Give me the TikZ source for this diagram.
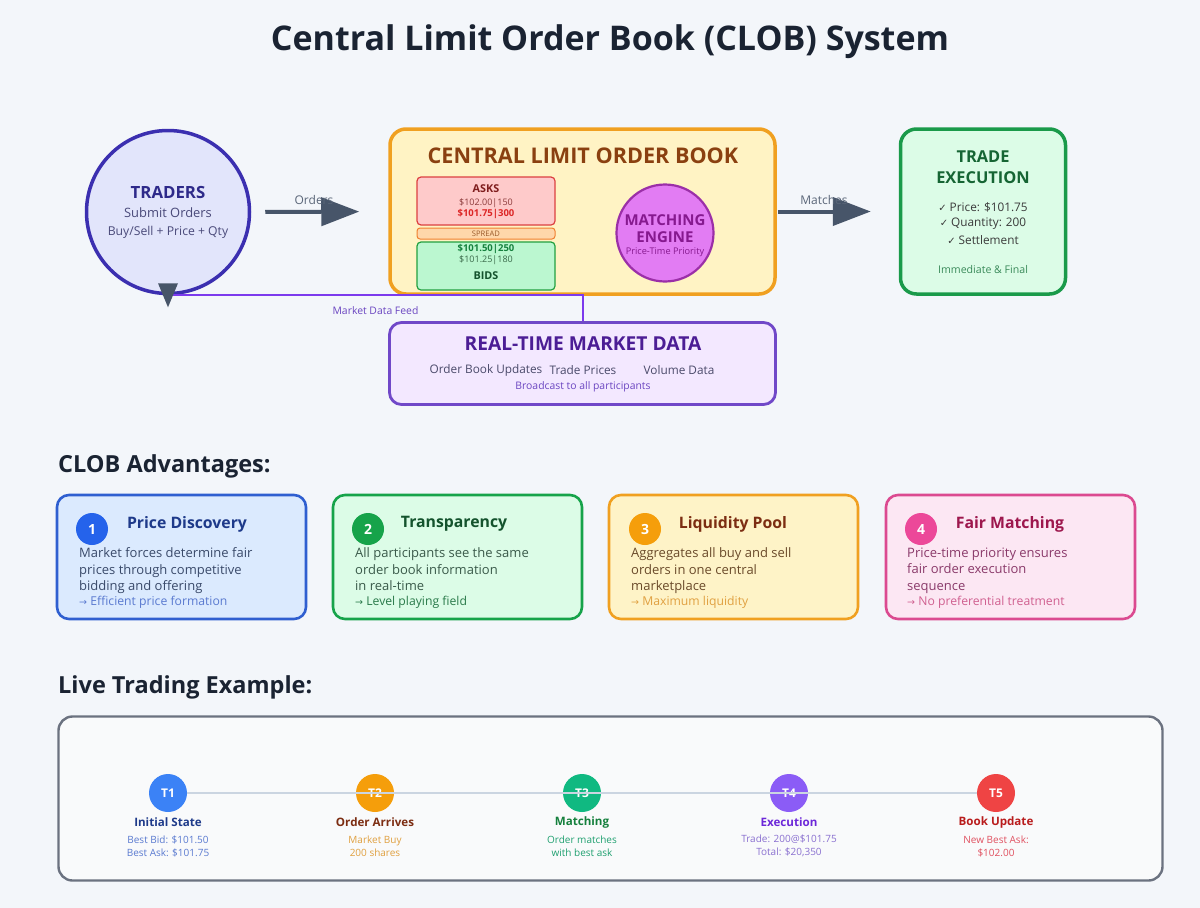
\documentclass[tikz,border=0pt]{standalone}
\usepackage{fontspec}
\setmainfont{Open Sans}
\newfontfamily\sym{DejaVu Sans}
\usetikzlibrary{arrows.meta,calc}
\newcommand\fsz[2]{\fontsize{#1}{#2}\selectfont}
\definecolor{bg}{HTML}{F3F6FA}
\definecolor{titlec}{HTML}{1A2332}
\definecolor{slate}{HTML}{475569}
\definecolor{indigo}{HTML}{3B2FB0}
\definecolor{lavender}{HTML}{E2E5FB}
\definecolor{tradtxt}{HTML}{2E2A8A}
\definecolor{tradsub}{HTML}{4A4A7A}
\definecolor{orangeb}{HTML}{F0A020}
\definecolor{yellowf}{HTML}{FFF3C4}
\definecolor{clobtxt}{HTML}{8A4010}
\definecolor{askf}{HTML}{FECACA}
\definecolor{askd}{HTML}{DC4040}
\definecolor{asktxt}{HTML}{7F1D1D}
\definecolor{asksub}{HTML}{8B3A3A}
\definecolor{askbest}{HTML}{DC2626}
\definecolor{sprf}{HTML}{FED7AA}
\definecolor{sprd}{HTML}{F08030}
\definecolor{sprtxt}{HTML}{9A5A2A}
\definecolor{bidf}{HTML}{BBF7D0}
\definecolor{bidd}{HTML}{22A040}
\definecolor{bidbest}{HTML}{15803D}
\definecolor{bidsub}{HTML}{3A6A4A}
\definecolor{bidtxt}{HTML}{14532D}
\definecolor{mef}{HTML}{E27CF3}
\definecolor{med}{HTML}{9B2FA8}
\definecolor{metxt}{HTML}{86198F}
\definecolor{exf}{HTML}{DCFCE7}
\definecolor{exd}{HTML}{1A9A4A}
\definecolor{extxt}{HTML}{166534}
\definecolor{exsub}{HTML}{3A3A3A}
\definecolor{exfoot}{HTML}{3A8A5A}
\definecolor{feed}{HTML}{7C3AED}
\definecolor{feedtxt}{HTML}{6B46C1}
\definecolor{rtf}{HTML}{F3E8FF}
\definecolor{rtd}{HTML}{7048C8}
\definecolor{rttxt}{HTML}{4C1D95}
\definecolor{rtsub}{HTML}{4A4A6A}
\definecolor{c1f}{HTML}{DBEAFE}\definecolor{c1d}{HTML}{2F5FD0}\definecolor{c1n}{HTML}{2563EB}
\definecolor{c1t}{HTML}{1E3A8A}\definecolor{c1b}{HTML}{3A4A6A}\definecolor{c1x}{HTML}{5A7AD0}
\definecolor{c2f}{HTML}{DCFCE7}\definecolor{c2d}{HTML}{16A34A}\definecolor{c2n}{HTML}{16A34A}
\definecolor{c2t}{HTML}{14532D}\definecolor{c2b}{HTML}{3A5A4A}\definecolor{c2x}{HTML}{2A7A4A}
\definecolor{c3f}{HTML}{FEF3C7}\definecolor{c3d}{HTML}{F0A020}\definecolor{c3n}{HTML}{F59E0B}
\definecolor{c3t}{HTML}{7C2D12}\definecolor{c3b}{HTML}{6A4A2A}\definecolor{c3x}{HTML}{E0A040}
\definecolor{c4f}{HTML}{FCE7F3}\definecolor{c4d}{HTML}{DB4A90}\definecolor{c4n}{HTML}{EC4899}
\definecolor{c4t}{HTML}{9D174D}\definecolor{c4b}{HTML}{8A3A6A}\definecolor{c4x}{HTML}{D06090}
\definecolor{tlf}{HTML}{F9FAFB}\definecolor{tld}{HTML}{6B7280}\definecolor{tll}{HTML}{CBD5E1}
\definecolor{t1}{HTML}{3B82F6}\definecolor{t2}{HTML}{F59E0B}\definecolor{t3}{HTML}{10B981}
\definecolor{t4}{HTML}{8B5CF6}\definecolor{t5}{HTML}{EF4444}
\definecolor{t1t}{HTML}{1E3A8A}\definecolor{t2t}{HTML}{7C2D12}\definecolor{t3t}{HTML}{15803D}
\definecolor{t4t}{HTML}{6D28D9}\definecolor{t5t}{HTML}{B91C1C}
\definecolor{t1s}{HTML}{5A7AD0}\definecolor{t2s}{HTML}{E0A040}\definecolor{t3s}{HTML}{20A070}
\definecolor{t4s}{HTML}{8A70D0}\definecolor{t5s}{HTML}{E05060}
\definecolor{shadowc}{HTML}{DDE2EA}
\begin{document}
\begin{tikzpicture}[x=1pt,y=-1pt,
  txt/.style={inner sep=0pt, anchor=center},
  flow/.style={draw=slate, line width=4pt, -{Triangle[length=38pt,width=28pt]}},
  box/.style={rounded corners=#1, inner sep=0pt},
  card/.style={rounded corners=12pt, line width=2.6pt, minimum width=249pt, minimum height=124pt, inner sep=0pt},
  num/.style={circle, minimum size=32pt, inner sep=0pt, text=white, font=\fsz{14}{16}\bfseries},
  ctitle/.style={txt, font=\fsz{15.8}{19}\bfseries},
  cbody/.style={inner sep=0pt, anchor=north west, align=left, font=\fsz{13}{16.5}},
  cfoot/.style={inner sep=0pt, anchor=west, font=\fsz{12.2}{14}},
  tstep/.style={circle, minimum size=38pt, inner sep=0pt, text=white, font=\fsz{12}{14}\bfseries},
  ttitle/.style={txt, font=\fsz{11.6}{14}\bfseries},
  tsub/.style={txt, align=center, font=\fsz{10}{13}},
  shadow/.style={fill=shadowc, opacity=0.6},
]
\useasboundingbox (0,0) rectangle (1200,908);
\fill[bg] (0,0) rectangle (1200,908);

% Title
\node[txt, font=\fsz{34}{40}\bfseries, text=titlec] (title) at (610,42) {Central Limit Order Book (CLOB) System};

% Traders
\node[circle, draw=indigo, line width=3.5pt, fill=lavender, minimum size=163pt, inner sep=0pt] (traders) at (168,212) {};
\node[txt, font=\fsz{16.8}{19}\bfseries, text=tradtxt] (tradT) at (168,192) {TRADERS};
\node[txt, font=\fsz{12.9}{15}, text=tradsub] (tradA) at (168,213) {Submit Orders};
\node[txt, font=\fsz{12.2}{14}, text=tradsub] (tradB) at (168,232) {Buy/Sell + Price + Qty};

% CLOB
\node[box=16pt, draw=orangeb, fill=yellowf, line width=3.5pt, minimum width=385pt, minimum height=165pt] (clob) at (582.5,211.5) {};
\node[txt, font=\fsz{21.6}{25}\bfseries, text=clobtxt] (clobT) at (583,156) {CENTRAL LIMIT ORDER BOOK};
\node[box=4pt, draw=askd, fill=askf, line width=1.2pt, minimum width=138pt, minimum height=48pt] (asks) at (486,201) {};
\node[txt, font=\fsz{10.8}{12}\bfseries, text=asktxt] (asksT) at (486,189) {ASKS};
\node[txt, font=\fsz{9}{11}, text=asksub] (ask1) at (486,203) {\$102.00|150};
\node[txt, font=\fsz{9.5}{11}\bfseries, text=askbest] (ask2) at (486,214) {\$101.75|300};
\node[box=3pt, draw=sprd, fill=sprf, line width=1pt, minimum width=138pt, minimum height=11pt] (spread) at (486,233.5) {};
\node[txt, font=\fsz{7.6}{8}, text=sprtxt] (spreadT) at (486,233.5) {SPREAD};
\node[box=4pt, draw=bidd, fill=bidf, line width=1.2pt, minimum width=138pt, minimum height=48pt] (bids) at (486,266) {};
\node[txt, font=\fsz{9.5}{11}\bfseries, text=bidbest] (bid1) at (486,249) {\$101.50|250};
\node[txt, font=\fsz{9}{11}, text=bidsub] (bid2) at (486,260) {\$101.25|180};
\node[txt, font=\fsz{10.8}{12}\bfseries, text=bidtxt] (bidsT) at (486,276) {BIDS};
\node[circle, draw=med, fill=mef, line width=2.2pt, minimum size=97pt, inner sep=0pt] (engine) at (665,233) {};
\node[txt, font=\fsz{15}{17}\bfseries, text=metxt] (engA) at (665,220) {MATCHING};
\node[txt, font=\fsz{15}{17}\bfseries, text=metxt] (engB) at (665,237.5) {ENGINE};
\node[txt, font=\fsz{9.2}{11}, text=metxt] (engC) at (665,252.5) {Price-Time Priority};

% Trade execution
\node[box=16pt, draw=exd, fill=exf, line width=3.5pt, minimum width=165pt, minimum height=165pt] (exec) at (983,211.5) {};
\node[txt, font=\fsz{16.4}{19}\bfseries, text=extxt] (exA) at (983,157) {TRADE};
\node[txt, font=\fsz{16.4}{19}\bfseries, text=extxt] (exB) at (983,178) {EXECUTION};
\node[txt, font=\fsz{11.8}{14}, text=exsub] (ex1) at (983,207) {{\sym\fsz{10}{14}✓} Price: \$101.75};
\node[txt, font=\fsz{11.8}{14}, text=exsub] (ex2) at (983,223.5) {{\sym\fsz{10}{14}✓} Quantity: 200};
\node[txt, font=\fsz{11.8}{14}, text=exsub] (ex3) at (983,240) {{\sym\fsz{10}{14}✓} Settlement};
\node[txt, font=\fsz{10.6}{12}, text=exfoot] (ex4) at (983,269.5) {Immediate \& Final};

% Flow arrows
\draw[flow, shorten <=14pt, shorten >=29pt] (traders.east) -- (clob.west);
\node[txt, font=\fsz{12}{14}, text=slate!90] (ordersL) at (314,200) {Orders};
\draw[flow, shorten <=1pt, shorten >=28pt] (clob.east) -- (exec.west);
\node[txt, font=\fsz{12}{14}, text=slate!90] (matchL) at (824,200) {Matches};

% Real-time market data
\node[box=12pt, draw=rtd, fill=rtf, line width=2.8pt, minimum width=386pt, minimum height=82pt] (rt) at (582.5,363.5) {};
\node[txt, font=\fsz{19.2}{22}\bfseries, text=rttxt] (rtT) at (583,343.5) {REAL-TIME MARKET DATA};
\node[txt, font=\fsz{11.8}{14}, text=rtsub] (rt1) at (486,370) {Order Book Updates};
\node[txt, font=\fsz{11.8}{14}, text=rtsub] (rt2) at (583,370) {Trade Prices};
\node[txt, font=\fsz{11.8}{14}, text=rtsub] (rt3) at (679,370) {Volume Data};
\node[txt, font=\fsz{10.4}{12}, text=feedtxt] (rt4) at (583,387) {Broadcast to all participants};

% Market data feed
\draw[feed, line width=2pt] (rt.north) |- (traders.south);
\fill[slate] ($(traders.south)+(-10,-12)$) -- ($(traders.south)+(10,-12)$) -- ($(traders.south)+(0,12)$) -- cycle;
\node[txt, font=\fsz{10.4}{12}, text=feedtxt] (feedL) at (375.5,311) {Market Data Feed};

% Advantages
\node[inner sep=0pt, anchor=west, font=\fsz{23.5}{27}\bfseries, text=titlec] (advH) at (58,466) {CLOB Advantages:};

\node[card, draw=c1d, fill=c1f] (card1) at (181.5,557) {};
\node[num, fill=c1n] (n1) at (92,529) {1};
\node[ctitle, text=c1t] (ct1) at (187,524) {Price Discovery};
\node[cbody, text=c1b] (cb1) at (79,547.5) {Market forces determine fair\\prices through competitive\\bidding and offering};
\node[cfoot, text=c1x] (cf1) at (79,602) {{\sym\fsz{9.5}{14}→} Efficient price formation};

\node[card, draw=c2d, fill=c2f] (card2) at (457.5,557) {};
\node[num, fill=c2n] (n2) at (368,529) {2};
\node[ctitle, text=c2t] (ct2) at (454,524) {Transparency};
\node[cbody, text=c2b] (cb2) at (355,547.5) {All participants see the same\\order book information\\in real-time};
\node[cfoot, text=c2x] (cf2) at (355,602) {{\sym\fsz{9.5}{14}→} Level playing field};

\node[card, draw=c3d, fill=c3f] (card3) at (733.5,557) {};
\node[num, fill=c3n] (n3) at (645,529) {3};
\node[ctitle, text=c3t] (ct3) at (733,524) {Liquidity Pool};
\node[cbody, text=c3b] (cb3) at (631,547.5) {Aggregates all buy and sell\\orders in one central\\marketplace};
\node[cfoot, text=c3x] (cf3) at (631,602) {{\sym\fsz{9.5}{14}→} Maximum liquidity};

\node[card, draw=c4d, fill=c4f] (card4) at (1010.5,557) {};
\node[num, fill=c4n] (n4) at (921,529) {4};
\node[ctitle, text=c4t] (ct4) at (1010,524) {Fair Matching};
\node[cbody, text=c4b] (cb4) at (907,547.5) {Price-time priority ensures\\fair order execution\\sequence};
\node[cfoot, text=c4x] (cf4) at (907,602) {{\sym\fsz{9.5}{14}→} No preferential treatment};

% Live trading example
\node[inner sep=0pt, anchor=west, font=\fsz{23.5}{27}\bfseries, text=titlec] (liveH) at (58,687) {Live Trading Example:};
\node[box=14pt, draw=tld, fill=tlf, line width=2.4pt, minimum width=1104pt, minimum height=164pt] (tl) at (610.5,798.5) {};

\node[tstep, fill=t1] (s1) at (168,793) {T1};
\node[tstep, fill=t2] (s2) at (375,793) {T2};
\node[tstep, fill=t3] (s3) at (582,793) {T3};
\node[tstep, fill=t4] (s4) at (789,793) {T4};
\node[tstep, fill=t5] (s5) at (996,793) {T5};
\draw[tll, line width=2.5pt] (s1.east) -- (s5.west);

\node[ttitle, text=t1t] (l1) at (168,822) {Initial State};
\node[tsub, text=t1s] (d1) at (168,846) {Best Bid: \$101.50\\Best Ask: \$101.75};
\node[ttitle, text=t2t] (l2) at (375,822) {Order Arrives};
\node[tsub, text=t2s] (d2) at (375,846) {Market Buy\\200 shares};
\node[ttitle, text=t3t] (l3) at (582,822) {Matching};
\node[tsub, text=t3s] (d3) at (582,846) {Order matches\\with best ask};
\node[ttitle, text=t4t] (l4) at (789,822) {Execution};
\node[tsub, text=t4s] (d4) at (789,846) {Trade: 200@\$101.75\\Total: \$20,350};
\node[ttitle, text=t5t] (l5) at (996,822) {Book Update};
\node[tsub, text=t5s] (d5) at (996,846) {New Best Ask:\\\$102.00};
\end{tikzpicture}
\end{document}
